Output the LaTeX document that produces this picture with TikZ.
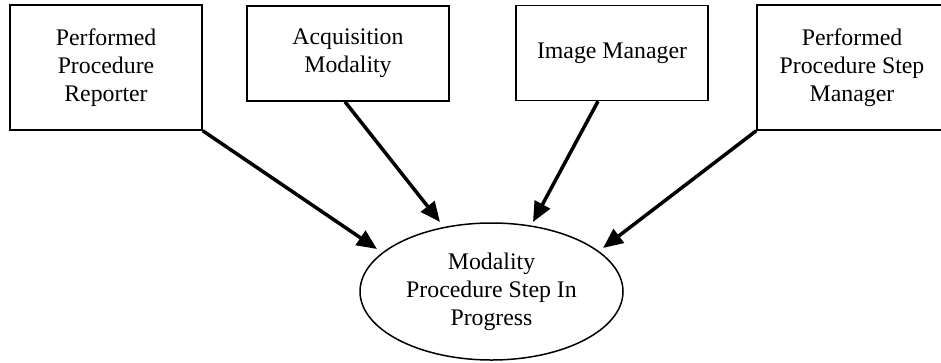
\documentclass[tikz,border=0pt]{standalone}
\usepackage{fontspec}
\setmainfont{Liberation Serif}
\usetikzlibrary{arrows.meta,shapes.geometric}

\begin{document}
\begin{tikzpicture}[x=1pt,y=-1pt,
	actor/.style={draw,line width=1.5pt,inner sep=0pt,align=center,font=\fontsize{23.8}{28}\selectfont},
	usecase/.style={ellipse,draw,line width=1.5pt,inner sep=0pt,align=center,font=\fontsize{23.8}{28}\selectfont},
	flow/.style={-{Triangle[length=20pt,width=17pt]},line width=3.5pt}]

\useasboundingbox (0,0) rectangle (941,362);

\node[actor,minimum width=192pt,minimum height=125pt](ppr) at (106,67.5){Performed\\Procedure\\Reporter};
\node[actor,minimum width=202pt,minimum height=95pt](am) at (348,53.5){Acquisition\\Modality};
\node[actor,minimum width=192pt,minimum height=95pt](im) at (612,53){Image Manager};
\node[actor,minimum width=190pt,minimum height=125pt](ppsm) at (852,67.5){Performed\\Procedure Step\\Manager};
\node[usecase,minimum width=263pt,minimum height=137pt](mpsip) at (491.5,291.5){Modality\\Procedure Step In\\Progress};

\coordinate (t1) at (377,249);
\coordinate (t2) at (440,222);
\coordinate (t3) at (533,222);
\coordinate (t4) at (603,248);

\path(ppr.south east) edge[flow] (t1)
	([xshift=-3pt]am.south) edge[flow] (t2)
	([xshift=-14pt]im.south) edge[flow] (t3)
	(ppsm.south west) edge[flow] (t4);

\end{tikzpicture}
\end{document}
